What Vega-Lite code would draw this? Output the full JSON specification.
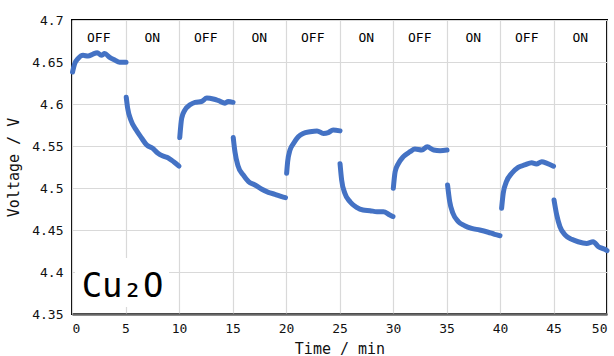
{
  "$schema": "https://vega.github.io/schema/vega-lite/v6.json",
  "width": 535,
  "height": 294,
  "autosize": {"type": "none"},
  "padding": {"left": 72, "top": 20, "right": 7, "bottom": 42},
  "background": "white",
  "config": {
    "view": {"stroke": "#000", "strokeWidth": 2},
    "axis": {"labelFont": "DejaVu Sans Mono", "titleFont": "DejaVu Sans Mono", "labelColor": "#111", "titleColor": "#111", "gridColor": "#d9d9d9", "gridWidth": 1.2, "ticks": false}
  },
  "datasets": {
    "volt": [
      {"t": 0.05, "v": 4.638, "s": 1}, {"t": 0.25, "v": 4.648, "s": 1}, {"t": 0.56, "v": 4.654, "s": 1}, {"t": 1.03, "v": 4.658, "s": 1}, {"t": 1.5, "v": 4.657, "s": 1}, {"t": 1.96, "v": 4.6595, "s": 1}, {"t": 2.36, "v": 4.661, "s": 1}, {"t": 2.74, "v": 4.658, "s": 1}, {"t": 3.05, "v": 4.66, "s": 1}, {"t": 3.52, "v": 4.6556, "s": 1}, {"t": 3.99, "v": 4.6524, "s": 1}, {"t": 4.45, "v": 4.6496, "s": 1}, {"t": 5.05, "v": 4.6496, "s": 1},
      {"t": 5.07, "v": 4.608, "s": 2}, {"t": 5.2, "v": 4.595, "s": 2}, {"t": 5.5, "v": 4.581, "s": 2}, {"t": 6.0, "v": 4.569, "s": 2}, {"t": 6.5, "v": 4.5595, "s": 2}, {"t": 7.0, "v": 4.551, "s": 2}, {"t": 7.5, "v": 4.5476, "s": 2}, {"t": 8.0, "v": 4.5417, "s": 2}, {"t": 8.5, "v": 4.538, "s": 2}, {"t": 9.0, "v": 4.5357, "s": 2}, {"t": 9.5, "v": 4.5313, "s": 2}, {"t": 10.0, "v": 4.526, "s": 2},
      {"t": 10.07, "v": 4.56, "s": 3}, {"t": 10.25, "v": 4.583, "s": 3}, {"t": 10.56, "v": 4.593, "s": 3}, {"t": 11.03, "v": 4.599, "s": 3}, {"t": 11.5, "v": 4.602, "s": 3}, {"t": 12.1, "v": 4.603, "s": 3}, {"t": 12.6, "v": 4.607, "s": 3}, {"t": 13.2, "v": 4.606, "s": 3}, {"t": 13.7, "v": 4.604, "s": 3}, {"t": 14.3, "v": 4.601, "s": 3}, {"t": 14.6, "v": 4.603, "s": 3}, {"t": 15.05, "v": 4.602, "s": 3},
      {"t": 15.07, "v": 4.56, "s": 4}, {"t": 15.23, "v": 4.543, "s": 4}, {"t": 15.5, "v": 4.527, "s": 4}, {"t": 16.0, "v": 4.5155, "s": 4}, {"t": 16.5, "v": 4.5075, "s": 4}, {"t": 17.1, "v": 4.5036, "s": 4}, {"t": 17.7, "v": 4.4988, "s": 4}, {"t": 18.35, "v": 4.4948, "s": 4}, {"t": 18.97, "v": 4.4925, "s": 4}, {"t": 19.6, "v": 4.4897, "s": 4}, {"t": 19.95, "v": 4.4885, "s": 4},
      {"t": 20.06, "v": 4.5175, "s": 5}, {"t": 20.15, "v": 4.531, "s": 5}, {"t": 20.37, "v": 4.545, "s": 5}, {"t": 20.7, "v": 4.553, "s": 5}, {"t": 21.15, "v": 4.561, "s": 5}, {"t": 21.6, "v": 4.565, "s": 5}, {"t": 22.25, "v": 4.567, "s": 5}, {"t": 22.9, "v": 4.568, "s": 5}, {"t": 23.5, "v": 4.565, "s": 5}, {"t": 23.95, "v": 4.566, "s": 5}, {"t": 24.4, "v": 4.569, "s": 5}, {"t": 25.05, "v": 4.568, "s": 5},
      {"t": 25.05, "v": 4.529, "s": 6}, {"t": 25.2, "v": 4.5095, "s": 6}, {"t": 25.5, "v": 4.4937, "s": 6}, {"t": 25.98, "v": 4.4837, "s": 6}, {"t": 26.6, "v": 4.477, "s": 6}, {"t": 27.2, "v": 4.4738, "s": 6}, {"t": 27.85, "v": 4.473, "s": 6}, {"t": 28.5, "v": 4.4718, "s": 6}, {"t": 29.1, "v": 4.4718, "s": 6}, {"t": 29.7, "v": 4.4679, "s": 6}, {"t": 30.0, "v": 4.466, "s": 6},
      {"t": 30.03, "v": 4.4996, "s": 7}, {"t": 30.2, "v": 4.5194, "s": 7}, {"t": 30.5, "v": 4.529, "s": 7}, {"t": 30.97, "v": 4.5373, "s": 7}, {"t": 31.6, "v": 4.5432, "s": 7}, {"t": 32.05, "v": 4.5464, "s": 7}, {"t": 32.7, "v": 4.5452, "s": 7}, {"t": 33.2, "v": 4.549, "s": 7}, {"t": 33.8, "v": 4.5452, "s": 7}, {"t": 34.4, "v": 4.5444, "s": 7}, {"t": 35.05, "v": 4.5452, "s": 7},
      {"t": 35.1, "v": 4.5036, "s": 8}, {"t": 35.3, "v": 4.4837, "s": 8}, {"t": 35.6, "v": 4.4699, "s": 8}, {"t": 36.1, "v": 4.46, "s": 8}, {"t": 36.7, "v": 4.4551, "s": 8}, {"t": 37.35, "v": 4.452, "s": 8}, {"t": 38.1, "v": 4.45, "s": 8}, {"t": 38.9, "v": 4.4473, "s": 8}, {"t": 39.5, "v": 4.4449, "s": 8}, {"t": 40.0, "v": 4.4432, "s": 8},
      {"t": 40.15, "v": 4.4758, "s": 9}, {"t": 40.3, "v": 4.4937, "s": 9}, {"t": 40.6, "v": 4.5075, "s": 9}, {"t": 41.1, "v": 4.5175, "s": 9}, {"t": 41.7, "v": 4.5246, "s": 9}, {"t": 42.3, "v": 4.5274, "s": 9}, {"t": 42.96, "v": 4.53, "s": 9}, {"t": 43.4, "v": 4.5286, "s": 9}, {"t": 43.9, "v": 4.5313, "s": 9}, {"t": 44.4, "v": 4.5294, "s": 9}, {"t": 45.0, "v": 4.526, "s": 9},
      {"t": 45.05, "v": 4.4857, "s": 10}, {"t": 45.3, "v": 4.468, "s": 10}, {"t": 45.6, "v": 4.454, "s": 10}, {"t": 46.1, "v": 4.444, "s": 10}, {"t": 46.7, "v": 4.4389, "s": 10}, {"t": 47.3, "v": 4.436, "s": 10}, {"t": 48.1, "v": 4.434, "s": 10}, {"t": 48.7, "v": 4.436, "s": 10}, {"t": 49.2, "v": 4.4301, "s": 10}, {"t": 49.8, "v": 4.427, "s": 10}, {"t": 50.0, "v": 4.4255, "s": 10}
    ],
    "state": [
      {"t": 2.5, "v": 4.679, "label": "OFF"}, {"t": 7.5, "v": 4.679, "label": "ON"},
      {"t": 12.5, "v": 4.679, "label": "OFF"}, {"t": 17.5, "v": 4.679, "label": "ON"},
      {"t": 22.5, "v": 4.679, "label": "OFF"}, {"t": 27.5, "v": 4.679, "label": "ON"},
      {"t": 32.5, "v": 4.679, "label": "OFF"}, {"t": 37.5, "v": 4.679, "label": "ON"},
      {"t": 42.5, "v": 4.679, "label": "OFF"}, {"t": 47.5, "v": 4.679, "label": "ON"}
    ],
    "box": [{"t1": 0.28, "t2": 9.07, "v1": 4.3583, "v2": 4.4167, "t": 0.9, "v": 4.3702, "label": "Cu₂O"}]
  },
  "layer": [
    {
      "data": {"name": "box"},
      "mark": {"type": "rect", "fill": "white"},
      "encoding": {
        "x": {"field": "t1", "type": "quantitative", "scale": {"domain": [0, 50], "nice": false, "zero": false},
              "axis": {"values": [0, 5, 10, 15, 20, 25, 30, 35, 40, 45, 50], "title": "Time / min", "titleFontSize": 15, "titleFontWeight": "normal", "titlePadding": 6, "labelFontSize": 13, "labelPadding": 8, "domainColor": "#666", "domainWidth": 2.5, "grid": true}},
        "x2": {"field": "t2"},
        "y": {"field": "v1", "type": "quantitative", "scale": {"domain": [4.35, 4.7], "nice": false, "zero": false},
              "axis": {"values": [4.35, 4.4, 4.45, 4.5, 4.55, 4.6, 4.65, 4.7], "format": ".2~f", "title": "Voltage / V", "titleFontSize": 15, "titleFontWeight": "normal", "titlePadding": 10, "labelFontSize": 13, "labelPadding": 9, "domain": false, "grid": true}},
        "y2": {"field": "v2"}
      }
    },
    {
      "data": {"name": "volt"},
      "mark": {"type": "line", "color": "#4472C4", "strokeWidth": 5, "strokeCap": "round", "strokeJoin": "round", "interpolate": "monotone"},
      "encoding": {
        "x": {"field": "t", "type": "quantitative"},
        "y": {"field": "v", "type": "quantitative"},
        "detail": {"field": "s", "type": "nominal"},
        "order": {"field": "t", "type": "quantitative"}
      }
    },
    {
      "data": {"name": "state"},
      "mark": {"type": "text", "font": "DejaVu Sans Mono", "fontSize": 13, "color": "#000", "align": "center", "baseline": "middle"},
      "encoding": {
        "x": {"field": "t", "type": "quantitative"},
        "y": {"field": "v", "type": "quantitative"},
        "text": {"field": "label"}
      }
    },
    {
      "data": {"name": "box"},
      "mark": {"type": "text", "font": "DejaVu Sans Mono", "fontSize": 34, "color": "#000", "align": "left", "baseline": "alphabetic"},
      "encoding": {
        "x": {"field": "t", "type": "quantitative"},
        "y": {"field": "v", "type": "quantitative"},
        "text": {"field": "label"}
      }
    }
  ]
}
